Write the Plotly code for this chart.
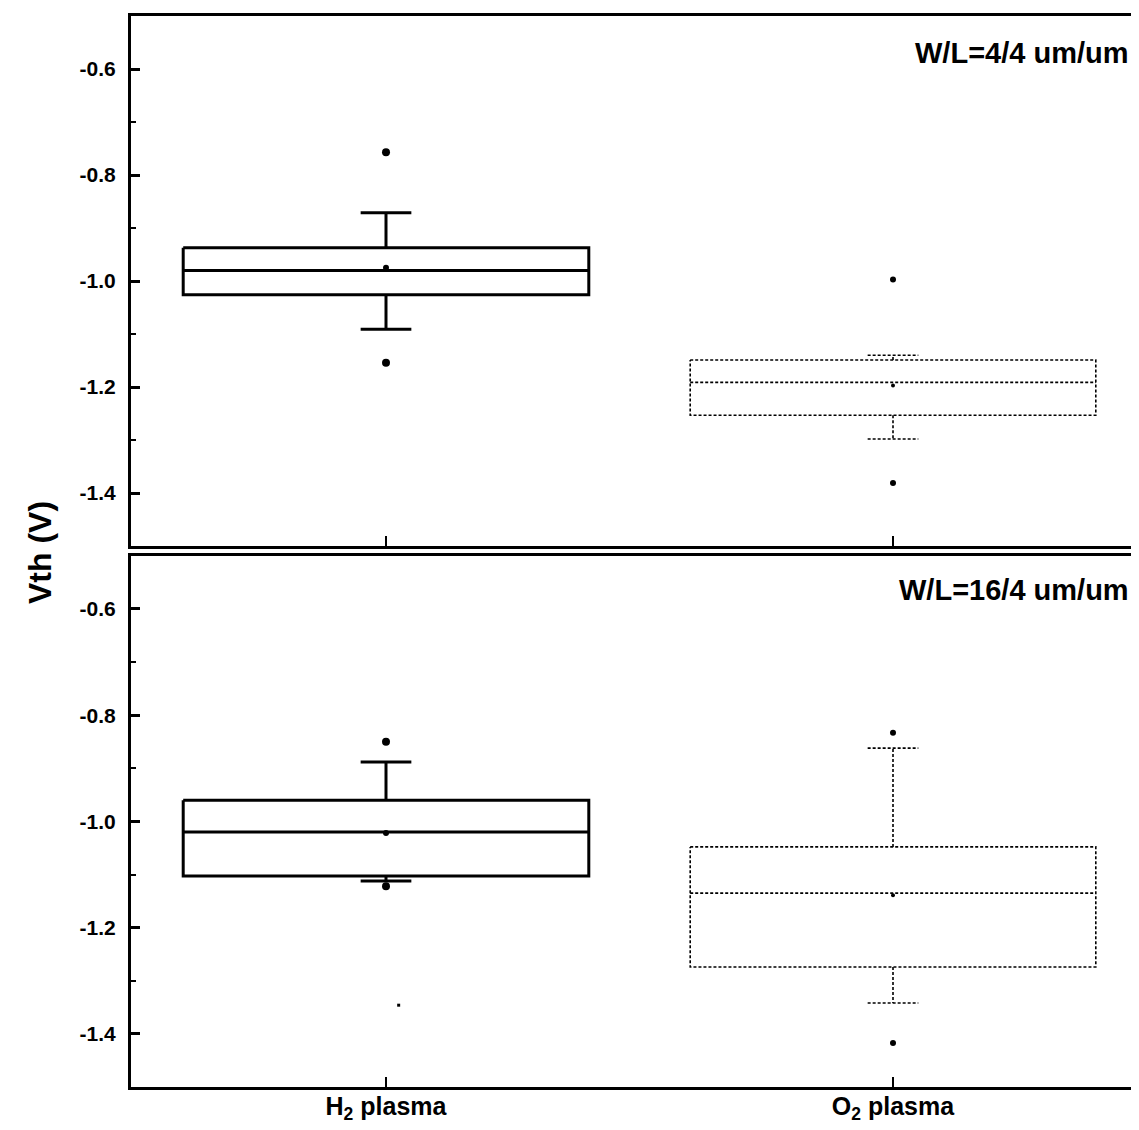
import plotly.graph_objects as go

# ---------------- data ----------------
categories = ["H<sub>2</sub> plasma", "O<sub>2</sub> plasma"]
cat_pos = [0, 1]

panel_titles = ["W/L=4/4 um/um", "W/L=16/4 um/um"]

# panel 1: W/L = 4/4 um/um
q1_p1 = [-1.026, -1.253]
median_p1 = [-0.980, -1.191]
q3_p1 = [-0.937, -1.149]
lower_p1 = [-1.091, -1.298]
upper_p1 = [-0.871, -1.140]
mean_p1 = [-0.975, -1.197]
outliers_p1 = [[-0.757, -1.154], [-0.997, -1.381]]

# panel 2: W/L = 16/4 um/um
q1_p2 = [-1.103, -1.274]
median_p2 = [-1.020, -1.135]
q3_p2 = [-0.960, -1.048]
lower_p2 = [-1.112, -1.342]
upper_p2 = [-0.888, -0.862]
mean_p2 = [-1.022, -1.139]
outliers_p2 = [[-0.850, -1.122], [-0.833, -1.417]]
minmark_p2 = [[-1.346], []]

y_tickvals = [-0.6, -0.8, -1.0, -1.2, -1.4]
y_ticktext = ["-0.6", "-0.8", "-1.0", "-1.2", "-1.4"]

# ---------------- style ----------------
BOX_HALF = 0.40
CAP_HALF = 0.05
styles = [
    dict(color="black", width=3, dash="solid", msize=8, mean_size=6),
    dict(color="black", width=1.6, dash="3px,2px", msize=6, mean_size=4),
]

fig = go.Figure()

panels = [
    (q1_p1, median_p1, q3_p1, lower_p1, upper_p1, mean_p1, outliers_p1, [[], []], "x", "y"),
    (q1_p2, median_p2, q3_p2, lower_p2, upper_p2, mean_p2, outliers_p2, minmark_p2, "x2", "y2"),
]

for (q1, med, q3, lo, up, mn, outs, mins, xa, ya) in panels:
    for i, c in enumerate(cat_pos):
        st = styles[i]
        xs = [c - BOX_HALF, c + BOX_HALF, c + BOX_HALF, c - BOX_HALF, c - BOX_HALF, None,
              c - BOX_HALF, c + BOX_HALF, None,
              c, c, None, c - CAP_HALF, c + CAP_HALF, None,
              c, c, None, c - CAP_HALF, c + CAP_HALF]
        ys = [q3[i], q3[i], q1[i], q1[i], q3[i], None,
              med[i], med[i], None,
              q3[i], up[i], None, up[i], up[i], None,
              q1[i], lo[i], None, lo[i], lo[i]]
        fig.add_trace(go.Scatter(
            x=xs, y=ys, mode="lines", xaxis=xa, yaxis=ya,
            line=dict(color=st["color"], width=st["width"], dash=st["dash"]),
            showlegend=False, hoverinfo="skip"))
        fig.add_trace(go.Scatter(
            x=[c], y=[mn[i]], mode="markers", xaxis=xa, yaxis=ya,
            marker=dict(color="black", size=st["mean_size"], symbol="circle"),
            showlegend=False))
        fig.add_trace(go.Scatter(
            x=[c] * len(outs[i]), y=outs[i], mode="markers", xaxis=xa, yaxis=ya,
            marker=dict(color="black", size=st["msize"], symbol="circle"),
            showlegend=False))
        if mins[i]:
            fig.add_trace(go.Scatter(
                x=[c + 0.025] * len(mins[i]), y=mins[i], mode="markers", xaxis=xa, yaxis=ya,
                marker=dict(color="black", size=3, symbol="square"),
                showlegend=False))

FONT = "Liberation Sans, Arial, Helvetica, sans-serif"

# page has an 8px body margin; figure sized so it fits the 1139x1130 window
FIG_W, FIG_H = 1123, 1114
ML, MT, MB, MR = 123, 8, 35, 0
PLOT_W = FIG_W - ML - MR
PLOT_H = FIG_H - MT - MB
PX_PER_UNIT = 507.0
x_left = -(386 - 131) / PX_PER_UNIT
x_right = x_left + PLOT_W / PX_PER_UNIT

xaxis_common = dict(
    range=[x_left, x_right], showline=True, linewidth=3, linecolor="black",
    mirror=True, ticks="inside", ticklen=10, tickwidth=2, tickcolor="black",
    tickvals=cat_pos, showgrid=False, zeroline=False, automargin=False,
)
yaxis_common = dict(
    range=[-1.5, -0.5], showline=True, linewidth=3, linecolor="black",
    mirror=False, ticks="inside", ticklen=9, tickwidth=2.5, tickcolor="black",
    tickvals=y_tickvals, ticktext=y_ticktext, showgrid=False, zeroline=False,
    tickfont=dict(family=FONT, size=21, color="black", weight="bold"),
    minor=dict(ticks="inside", ticklen=5, tickwidth=2, tickcolor="black",
               tickvals=[-0.5, -0.7, -0.9, -1.1, -1.3, -1.5]),
    ticklabelstandoff=8, automargin=False,
)

fig.update_layout(
    width=FIG_W, height=FIG_H,
    margin=dict(l=ML, r=MR, t=MT, b=MB, autoexpand=False),
    plot_bgcolor="white", paper_bgcolor="white",
    xaxis=dict(**xaxis_common, anchor="y", domain=[0, 1], showticklabels=False),
    xaxis2=dict(**xaxis_common, anchor="y2", domain=[0, 1], ticktext=categories,
                ticklabelstandoff=-5,
                tickfont=dict(family=FONT, size=25, color="black", weight="bold")),
    yaxis=dict(**yaxis_common, anchor="x", domain=[0.505, 1.0]),
    yaxis2=dict(**yaxis_common, anchor="x2", domain=[0.0, 0.496]),
    showlegend=False,
)

# positions below are expressed in page pixels of the reference, converted to paper fractions
def px_x(px):
    return (px - 131) / PLOT_W

def px_y(py):
    return (1087 - py) / PLOT_H

fig.add_annotation(text=panel_titles[0], xref="paper", yref="paper",
                   x=1.0, y=px_y(53), xanchor="right", yanchor="middle", showarrow=False,
                   font=dict(family=FONT, size=29, color="black", weight="bold"))
fig.add_annotation(text=panel_titles[1], xref="paper", yref="paper",
                   x=1.0, y=px_y(590), xanchor="right", yanchor="middle", showarrow=False,
                   font=dict(family=FONT, size=29, color="black", weight="bold"))
fig.add_annotation(text="Vth (V)", xref="paper", yref="paper",
                   x=px_x(40), y=px_y(553), xanchor="center", yanchor="middle",
                   textangle=-90, showarrow=False,
                   font=dict(family=FONT, size=32, color="black", weight="bold"))

fig.write_html("out.html")
